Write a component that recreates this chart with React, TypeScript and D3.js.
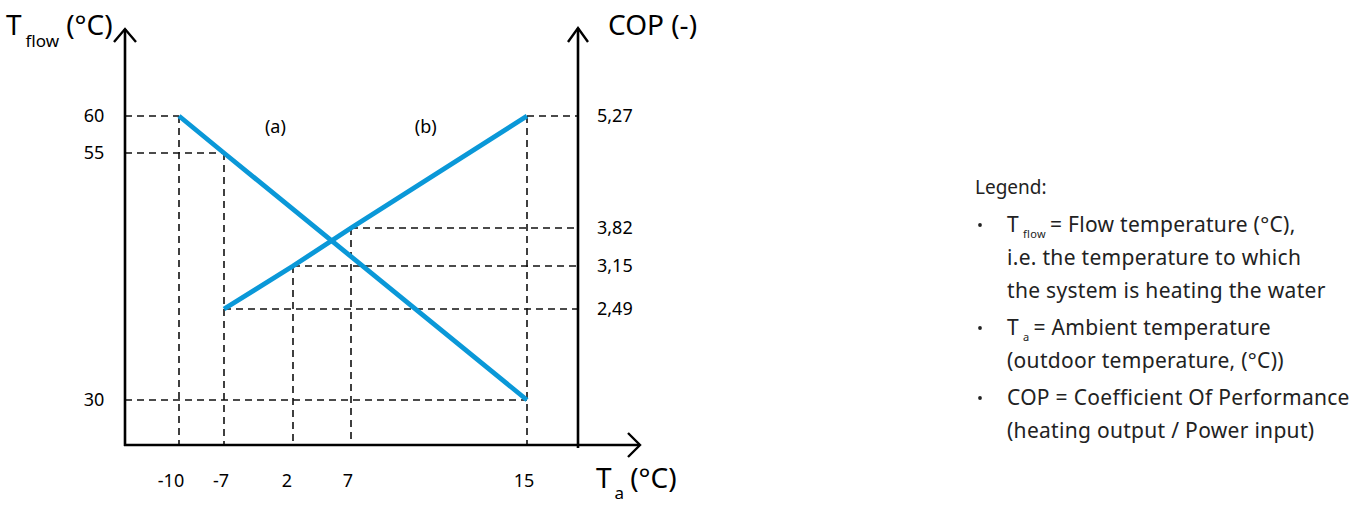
import React from 'react';
import * as d3 from 'd3';

// ---- data ----
const xTicks: number[] = [-10, -7, 2, 7, 15];
const tflowTicks: number[] = [30, 55, 60];
const copTicks: number[] = [2.49, 3.15, 3.82, 5.27];
const tflowSeries = [
  { ta: -10, v: 60 },
  { ta: -7, v: 55 },
  { ta: 15, v: 30 },
];
const copSeries = [
  { ta: -7, v: 2.49 },
  { ta: 2, v: 3.15 },
  { ta: 7, v: 3.82 },
  { ta: 15, v: 5.27 },
];
const annotations = [
  { label: '(a)', ta: -0.3, v: 58.6 },
  { label: '(b)', ta: 10.4, v: 58.6 },
];
const legendTitle = 'Legend:';
const legendItems = [
  { sym: 'T', sub: 'flow', lines: ['= Flow temperature (°C),', 'i.e. the temperature to which', 'the system is heating the water'] },
  { sym: 'T', sub: 'a', lines: ['= Ambient temperature', '(outdoor temperature, (°C))'] },
  { sym: '', sub: '', lines: ['COP = Coefficient Of Performance', '(heating output / Power input)'] },
];

const FONT = "'Noto Sans', 'Open Sans', sans-serif";
const BLUE = '#0a98d8';

export default function App() {
  const W = 1354, H = 505;
  const leftX = 125, rightX = 578, bottomY = 445, topY = 29, xEnd = 640;

  const x = d3.scaleLinear().domain(xTicks).range([179, 224, 293, 351, 527]);
  const yL = d3.scaleLinear().domain(tflowTicks).range([400, 153, 116]);
  const yR = d3.scaleLinear().domain(copTicks).range([309, 266, 228, 116]);

  const lineL = d3.line<{ ta: number; v: number }>().x(d => x(d.ta)).y(d => yL(d.v));
  const lineR = d3.line<{ ta: number; v: number }>().x(d => x(d.ta)).y(d => yR(d.v));

  // guides
  const hGuides: { x1: number; x2: number; y: number }[] = [];
  tflowSeries.forEach(d => hGuides.push({ x1: leftX, x2: x(d.ta), y: yL(d.v) }));
  copSeries.forEach(d => hGuides.push({ x1: x(d.ta), x2: rightX, y: yR(d.v) }));
  const vGuides = xTicks.map(t => {
    const ys: number[] = [];
    tflowSeries.filter(d => d.ta === t).forEach(d => ys.push(yL(d.v)));
    copSeries.filter(d => d.ta === t).forEach(d => ys.push(yR(d.v)));
    return { x: x(t), y1: d3.min(ys) as number, y2: bottomY };
  });

  const dash = { stroke: '#111', strokeWidth: 1.6, strokeDasharray: '7,5', fill: 'none' };
  const arrow = { stroke: '#000', strokeWidth: 2.4, fill: 'none' };

  // legend layout
  const legX = 975, bulletX = 980, textX = 1007;
  const legendLines: { item: number; idx: number; y: number }[] = [];
  let yy = 232;
  legendItems.forEach((it, i) => {
    it.lines.forEach((_, j) => {
      legendLines.push({ item: i, idx: j, y: yy });
      yy += 33;
    });
    yy += 4;
  });
  const legFont = 21;
  const legSpacing = 0.3;

  return (
    <svg width={W} height={H} style={{ position: 'absolute', left: 0, top: 0, background: '#fff' }} fontFamily={FONT}>
      {/* guides */}
      {hGuides.map((g, i) => (
        <line key={'h' + i} x1={g.x1} x2={g.x2} y1={g.y} y2={g.y} {...dash} />
      ))}
      {vGuides.map((g, i) => (
        <line key={'v' + i} x1={g.x} x2={g.x} y1={g.y1} y2={g.y2} {...dash} />
      ))}

      {/* axes */}
      <line x1={leftX} x2={leftX} y1={topY} y2={bottomY + 1} stroke="#000" strokeWidth={2.6} />
      <line x1={rightX} x2={rightX} y1={topY - 1} y2={bottomY + 3} stroke="#000" strokeWidth={2.6} />
      <line x1={leftX - 1} x2={xEnd} y1={bottomY} y2={bottomY} stroke="#000" strokeWidth={2.6} />
      <polyline points={`${leftX - 11},${topY + 13} ${leftX},${topY} ${leftX + 11},${topY + 13}`} {...arrow} />
      <polyline points={`${rightX - 10},${topY + 13} ${rightX},${topY - 1} ${rightX + 10},${topY + 13}`} {...arrow} />
      <polyline points={`${xEnd - 12},${bottomY - 12} ${xEnd},${bottomY} ${xEnd - 12},${bottomY + 12}`} {...arrow} />

      {/* series */}
      <path d={lineL(tflowSeries) || ''} stroke={BLUE} strokeWidth={4.8} fill="none" />
      <path d={lineR(copSeries) || ''} stroke={BLUE} strokeWidth={4.8} fill="none" />

      {/* tick labels */}
      {tflowTicks.map(t => (
        <text key={'l' + t} x={94} y={yL(t)} dy="0.35em" textAnchor="middle" fontSize={18}>{t}</text>
      ))}
      {copTicks.map(t => (
        <text key={'r' + t} x={597} y={yR(t)} dy="0.35em" fontSize={18}>{String(t.toFixed(2)).replace('.', ',')}</text>
      ))}
      {xTicks.map(t => (
        <text key={'x' + t} x={x(t) + (t === -10 ? -8 : t === 2 ? -6 : -3)} y={487} textAnchor="middle" fontSize={18}>{t}</text>
      ))}

      {/* annotations */}
      {annotations.map(a => (
        <text key={a.label} x={x(a.ta)} y={yL(a.v)} dy="0.35em" textAnchor="middle" fontSize={18}>{a.label}</text>
      ))}

      {/* axis titles */}
      <text x={6} y={35} fontSize={28}>
        T<tspan fontSize={17} dx={4} dy={12}>flow</tspan><tspan dx={7} dy={-12}>(°C)</tspan>
      </text>
      <text x={608} y={35} fontSize={28}>COP (-)</text>
      <text x={596} y={488} fontSize={28}>
        T<tspan fontSize={17} dx={3} dy={11}>a</tspan><tspan dx={6} dy={-11}>(°C)</tspan>
      </text>

      {/* legend */}
      <text x={legX} y={194} fontSize={19} fill="#222">{legendTitle}</text>
      {legendItems.map((it, i) => {
        const first = legendLines.find(l => l.item === i && l.idx === 0)!;
        return <circle key={'b' + i} cx={bulletX} cy={first.y - 7} r={1.9} fill="#222" />;
      })}
      {legendLines.map((l, k) => {
        const it = legendItems[l.item];
        const txt = it.lines[l.idx];
        if (l.idx === 0 && it.sym) {
          return (
            <text key={'t' + k} x={textX} y={l.y} fontSize={legFont} fill="#222" letterSpacing={legSpacing}>
              {it.sym}<tspan fontSize={11} dx={4} dy={6}>{it.sub}</tspan><tspan dx={4} dy={-6}>{txt}</tspan>
            </text>
          );
        }
        return <text key={'t' + k} x={textX} y={l.y} fontSize={legFont} fill="#222" letterSpacing={legSpacing}>{txt}</text>;
      })}
    </svg>
  );
}
